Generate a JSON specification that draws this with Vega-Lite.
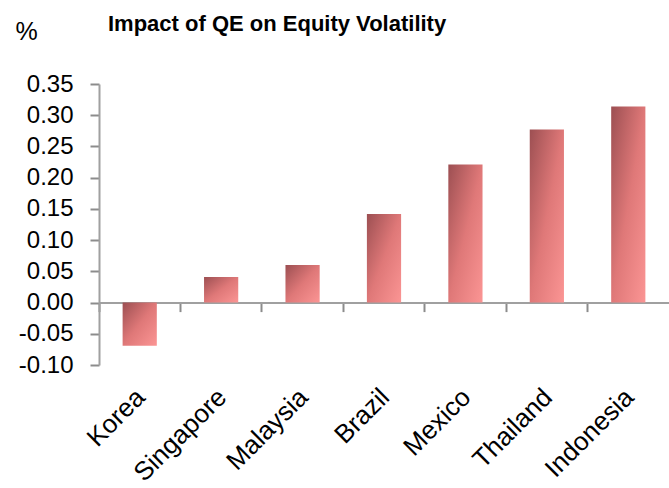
{
  "$schema": "https://vega.github.io/schema/vega-lite/v6.json",
  "autosize": {"type": "none"},
  "padding": {"left": 99, "top": 84, "right": 0, "bottom": 123},
  "width": 570,
  "height": 281,
  "background": "white",
  "title": {
    "text": "Impact of QE on Equity Volatility",
    "anchor": "start",
    "frame": "group",
    "dx": 9,
    "offset": 0,
    "dy": 34,
    "baseline": "alphabetic",
    "font": "Liberation Sans",
    "fontSize": 22,
    "fontWeight": "bold",
    "color": "black"
  },
  "data": {
    "values": [
      {"country": "Korea", "value": -0.069},
      {"country": "Singapore", "value": 0.041},
      {"country": "Malaysia", "value": 0.060},
      {"country": "Brazil", "value": 0.142},
      {"country": "Mexico", "value": 0.221},
      {"country": "Thailand", "value": 0.277},
      {"country": "Indonesia", "value": 0.314}
    ]
  },
  "mark": {
    "type": "bar",
    "width": {"band": 0.42},
    "color": {
      "gradient": "linear",
      "x1": 0, "y1": 0, "x2": 1, "y2": 1,
      "stops": [
        {"offset": 0, "color": "#9c4f52"},
        {"offset": 0.5, "color": "#df7878"},
        {"offset": 1, "color": "#fb9594"}
      ]
    }
  },
  "encoding": {
    "x": {
      "field": "country",
      "type": "nominal",
      "sort": null,
      "scale": {"paddingInner": 0, "paddingOuter": 0},
      "axis": {
        "title": null,
        "offset": -62.4,
        "bandPosition": 0,
        "labelOffset": -8,
        "labelAngle": -45,
        "labelAlign": "right",
        "labelBaseline": "top",
        "labelPadding": 72,
        "labelFont": "Liberation Sans",
        "labelFontSize": 26,
        "labelColor": "black",
        "labelOverlap": false,
        "labelBound": false,
        "labelFlush": false,
        "domainColor": "#a0a0a0",
        "domainWidth": 2,
        "tickColor": "#8c8c8c",
        "tickWidth": 2,
        "tickSize": 9,
        "grid": false
      }
    },
    "y": {
      "field": "value",
      "type": "quantitative",
      "scale": {"domain": [-0.1, 0.35], "nice": false, "zero": false},
      "axis": {
        "title": "%",
        "titleAngle": 0,
        "titleX": -84,
        "titleY": -45,
        "titleAlign": "left",
        "titleBaseline": "alphabetic",
        "titleFont": "Liberation Sans",
        "titleFontSize": 25,
        "titleFontWeight": "normal",
        "titleColor": "black",
        "values": [-0.1, -0.05, 0, 0.05, 0.1, 0.15, 0.2, 0.25, 0.3, 0.35],
        "format": ".2f",
        "labelExpr": "replace(datum.label, '\u2212', '-')",
        "labelFont": "Liberation Sans",
        "labelFontSize": 24,
        "labelColor": "black",
        "labelPadding": 17,
        "labelOverlap": false,
        "labelFlush": false,
        "domainColor": "#a0a0a0",
        "domainWidth": 2,
        "tickColor": "#8c8c8c",
        "tickWidth": 2,
        "tickSize": 9,
        "grid": false
      }
    }
  },
  "config": {"view": {"stroke": null}}
}
